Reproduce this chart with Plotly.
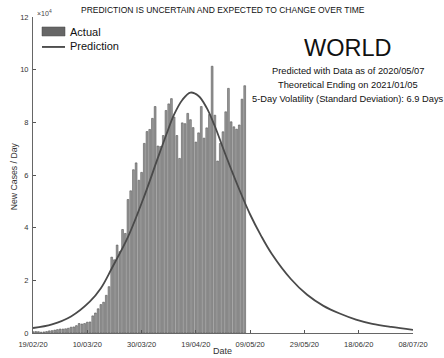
import pandas as pd
import plotly.graph_objects as go

# ---------------- data ----------------
start_date = "2020-02-19"
actual_cases = [
    500, 550, 500, 300, 400, 550, 800, 900, 1100, 1300,
    1500, 1500, 1600, 1800, 2200, 2300, 2800, 3600, 3400, 3600,
    4100, 4200, 6500, 7600, 9200, 10800, 11700, 14300, 17600, 28800,
    27800, 33400, 30900, 39300, 37800, 50700, 54000, 62000, 64600, 58000,
    61000, 72000, 76500, 77300, 81500, 86000, 71000, 70800, 75000, 84500,
    87000, 89000, 82000, 75000, 66300, 79800, 79500, 83400, 81000, 78000,
    72500, 76000, 86000, 74000, 77900, 83000, 101300, 82700, 65300, 72000,
    76400, 84000, 92900, 80200, 78300, 77400, 79000, 88800, 93900,
]
pred_day_offsets = [0, 7, 14, 21, 25, 29, 35, 41, 46, 49, 52, 55, 58, 61, 64,
                    67, 71, 76, 80, 84, 88, 95, 101, 107, 113, 119, 125, 132, 140]
pred_values = [1900, 3300, 6300, 12000, 17000, 24500, 36500, 52000, 66500, 75000,
               83000, 88500, 91300, 90000, 85500, 78500, 67500, 54500, 45000, 37000,
               30000, 20500, 14500, 10300, 7400, 5100, 3500, 2300, 1200]
x_tick_dates = ["2020-02-19", "2020-03-10", "2020-03-30", "2020-04-19",
                "2020-05-09", "2020-05-29", "2020-06-18", "2020-07-08"]
x_tick_labels = ["19/02/20", "10/03/20", "30/03/20", "19/04/20",
                 "09/05/20", "29/05/20", "18/06/20", "08/07/20"]
y_tick_vals = [0, 20000, 40000, 60000, 80000, 100000, 120000]
y_tick_labels = ["0", "2", "4", "6", "8", "10", "12"]
title_text = "PREDICTION IS UNCERTAIN AND EXPECTED TO CHANGE OVER TIME"
x_title = "Date"
y_title = "New Cases / Day"
region = "WORLD"
info_lines = ["Predicted with Data as of 2020/05/07",
              "Theoretical Ending on 2021/01/05",
              "5-Day Volatility (Standard Deviation): 6.9 Days"]

# ---------------- figure ----------------
W, H = 444, 358
L, R, T, B = 33, 31, 17, 24.5
PW, PH = W - L - R, H - T - B


def px(xp):
    return (xp - L) / PW


def py(yp):
    return (H - B - yp) / PH


bar_dates = pd.date_range(start=start_date, periods=len(actual_cases), freq="D")
pred_dates = [pd.Timestamp(start_date) + pd.Timedelta(days=d) for d in pred_day_offsets]

FONT = "Liberation Sans, Arial, Helvetica, sans-serif"

fig = go.Figure()
fig.add_trace(go.Bar(
    x=bar_dates, y=actual_cases, name="Actual",
    marker=dict(color="#9c9c9c", line=dict(color="#555555", width=0.6)),
    showlegend=False,
))
fig.add_trace(go.Scatter(
    x=pred_dates, y=pred_values, name="Prediction", mode="lines",
    line=dict(color="#4a4a4a", width=1.8, shape="spline", smoothing=1.0),
    showlegend=False,
))

fig.update_layout(
    width=W, height=H,
    margin=dict(l=L, r=R, t=T, b=B, pad=0, autoexpand=False),
    paper_bgcolor="white", plot_bgcolor="white",
    font=dict(family=FONT, color="#262626"),
    bargap=0.35,
    showlegend=False,
)
fig.update_xaxes(
    type="date", automargin=False,
    range=[x_tick_dates[0], x_tick_dates[-1]],
    tickvals=x_tick_dates, ticktext=x_tick_labels,
    ticks="inside", ticklen=3, tickcolor="#555", tickwidth=0.8,
    ticklabelstandoff=4,
    showline=True, linecolor="#666", linewidth=1,
    showgrid=False, zeroline=False,
    tickfont=dict(size=7.5, family=FONT, color="#333"),
)
fig.update_yaxes(
    automargin=False,
    range=[0, 120000],
    tickvals=y_tick_vals, ticktext=y_tick_labels,
    ticks="inside", ticklen=3, tickcolor="#555", tickwidth=0.8,
    ticklabelstandoff=2,
    showline=True, linecolor="#666", linewidth=1,
    showgrid=False, zeroline=False,
    tickfont=dict(size=7.5, family=FONT, color="#333"),
)

annotations = []
# axis titles
annotations.append(dict(x=px(222.5), y=py(352), xref="paper", yref="paper",
                        text=x_title, showarrow=False, xanchor="center",
                        yanchor="middle", font=dict(size=9, color="#333")))
annotations.append(dict(x=px(14), y=py(176.5), xref="paper", yref="paper",
                        text=y_title, showarrow=False, textangle=-90,
                        xanchor="center", yanchor="middle",
                        font=dict(size=8.7, color="#333")))
# exponent label
annotations.append(dict(x=px(35), y=py(12.5), xref="paper", yref="paper",
                        text="×10<sup>4</sup>", showarrow=False, xanchor="left",
                        yanchor="middle", font=dict(size=7, color="#444")))
# title
annotations.append(dict(x=px(223.3), y=py(10), xref="paper", yref="paper",
                        text=title_text, showarrow=False, xanchor="center",
                        yanchor="middle", font=dict(size=8.5, color="#111")))
# region & info
annotations.append(dict(x=px(347.5), y=py(48.5), xref="paper", yref="paper",
                        text=region, showarrow=False, xanchor="center",
                        yanchor="middle", font=dict(size=23.5, color="#111")))
for i, line in enumerate(info_lines):
    annotations.append(dict(x=px(347.5), y=py(70.7 + 14.3 * i), xref="paper", yref="paper",
                            text=line, showarrow=False, xanchor="center",
                            yanchor="middle", font=dict(size=9.3, color="#111")))
# manual legend texts
annotations.append(dict(x=px(67.5), y=py(32), xref="paper", yref="paper",
                        text="Actual", showarrow=False, xanchor="left",
                        yanchor="middle", font=dict(size=11, color="#111")))
annotations.append(dict(x=px(67.5), y=py(46.5), xref="paper", yref="paper",
                        text="Prediction", showarrow=False, xanchor="left",
                        yanchor="middle", font=dict(size=11, color="#111")))

shapes = [
    dict(type="rect", xref="paper", yref="paper",
         x0=px(42), x1=px(65), y0=py(36), y1=py(27),
         fillcolor="#666", line=dict(color="#444", width=0.5)),
    dict(type="line", xref="paper", yref="paper",
         x0=px(42), x1=px(65), y0=py(47), y1=py(47),
         line=dict(color="#444", width=1.8)),
]
fig.update_layout(annotations=annotations, shapes=shapes)

fig.write_html("out.html")
